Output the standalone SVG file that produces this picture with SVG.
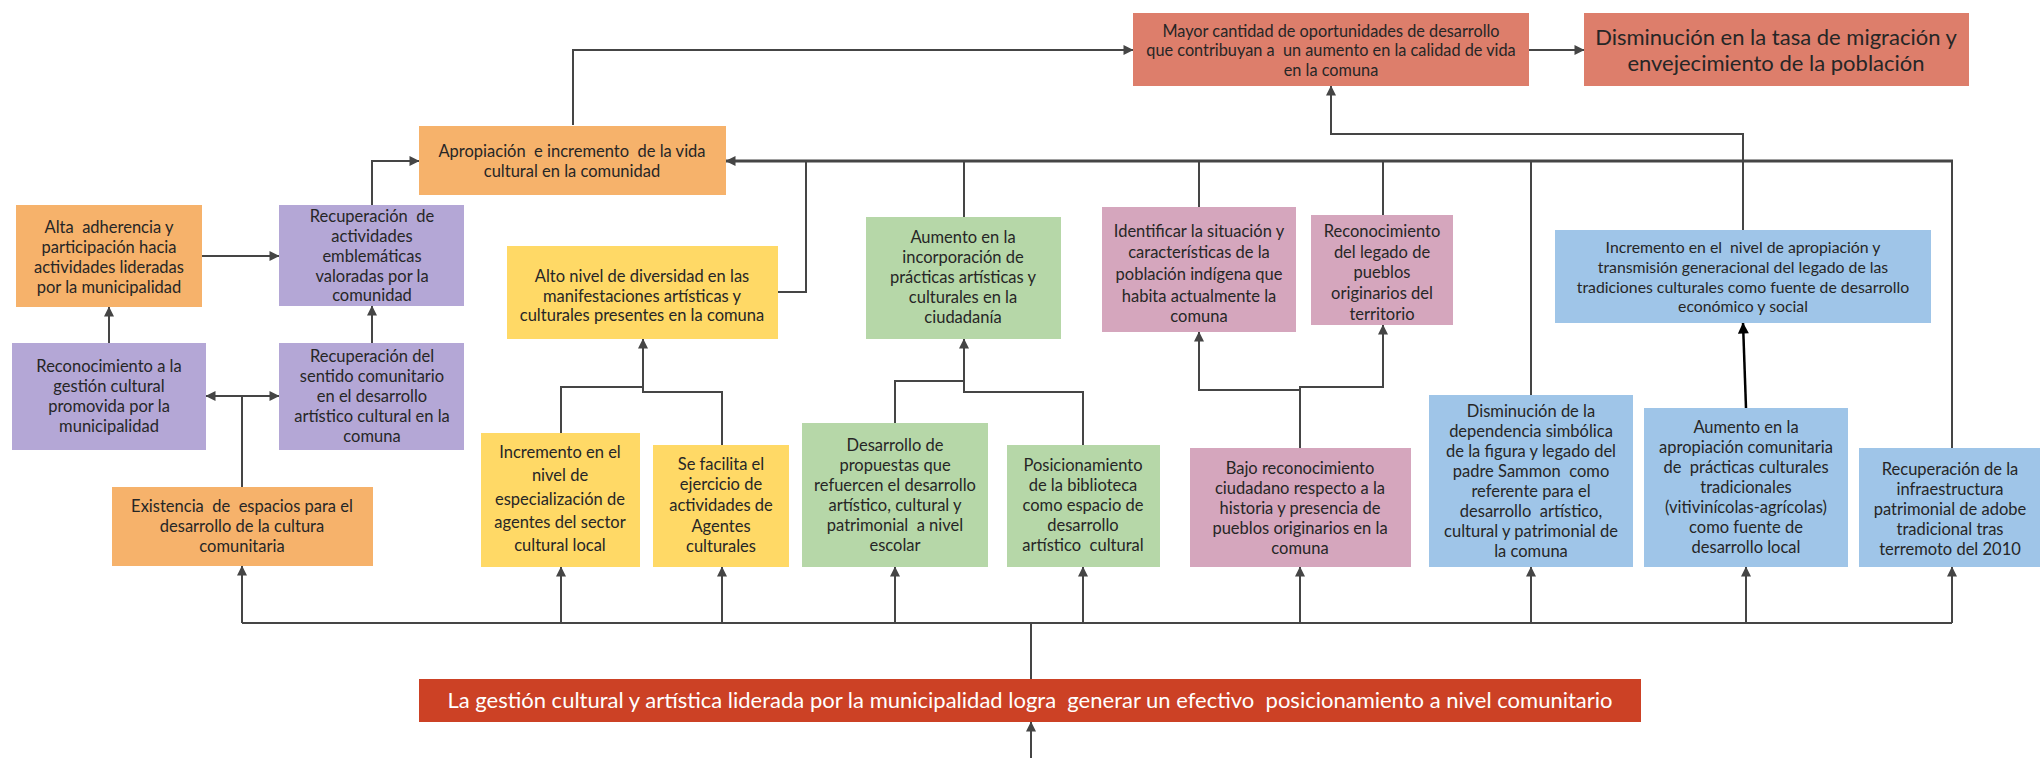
<svg xmlns="http://www.w3.org/2000/svg" width="2040" height="772" viewBox="0 0 2040 772">
<defs>
<marker id="ah" viewBox="0 0 10 10" refX="9.5" refY="5" markerWidth="11" markerHeight="10" orient="auto" markerUnits="userSpaceOnUse"><path d="M0,0 L10,5 L0,10 z" fill="#454545"/></marker>
<marker id="ahk" viewBox="0 0 10 10" refX="9.5" refY="5" markerWidth="12" markerHeight="11" orient="auto" markerUnits="userSpaceOnUse"><path d="M0,0 L10,5 L0,10 z" fill="#000"/></marker>
</defs>
<style>
text{font-family:Lato,"Open Sans","Liberation Sans",sans-serif;font-size:16.5px;fill:#262626;text-anchor:middle;white-space:pre}
.or{fill:#F6B26B}.pu{fill:#B4A7D6}.ye{fill:#FFD966}.gr{fill:#B6D7A8}.pk{fill:#D5A6BD}.bl{fill:#9FC5E8}.sa{fill:#DD7E6B}.rd{fill:#CC4125}
.c{fill:none;stroke:#454545;stroke-width:2}
.cb{fill:none;stroke:#454545;stroke-width:3}
</style>
<rect width="2040" height="772" fill="#fff"/>
<g id="connectors">
<path class="c" d="M573,125 V50 H1133" marker-end="url(#ah)"/>
<path class="c" d="M1529,50 H1584" marker-end="url(#ah)"/>
<path class="c" d="M1743,230 V134 H1331 V86" marker-end="url(#ah)"/>
<path class="cb" d="M1953,161 H726" marker-end="url(#ah)"/>
<path class="c" d="M806,161 V292 H778"/>
<path class="c" d="M964,161 V217"/>
<path class="c" d="M1199,161 V207"/>
<path class="c" d="M1383,161 V215"/>
<path class="c" d="M1531,161 V395"/>
<path class="c" d="M1952,161 V448"/>
<path class="c" d="M372,205 V161 H419" marker-end="url(#ah)"/>
<path class="c" d="M202,256 H279" marker-end="url(#ah)"/>
<path class="c" d="M109,343 V307" marker-end="url(#ah)"/>
<path class="c" d="M372,343 V306" marker-end="url(#ah)"/>
<path class="c" d="M242,487 V396"/>
<path class="c" d="M242,396 H206" marker-end="url(#ah)"/>
<path class="c" d="M242,396 H279" marker-end="url(#ah)"/>
<path class="c" d="M561,433 V387 H643"/>
<path class="c" d="M722,445 V392 H643 V339" marker-end="url(#ah)"/>
<path class="c" d="M895,423 V381 H964"/>
<path class="c" d="M1083,445 V392 H964 V339" marker-end="url(#ah)"/>
<path class="c" d="M1300,448 V390 H1199 V332" marker-end="url(#ah)"/>
<path class="c" d="M1300,390 V387 H1383 V325" marker-end="url(#ah)"/>
<path d="M1746,408 L1743,323" fill="none" stroke="#000" stroke-width="2.5" marker-end="url(#ahk)"/>
<path class="c" d="M242,623 H1952"/>
<path class="c" d="M1031,679 V623"/>
<path class="c" d="M1031,758 V722" marker-end="url(#ah)"/>
<path class="c" d="M242,623 V566" marker-end="url(#ah)"/>
<path class="c" d="M561,623 V567" marker-end="url(#ah)"/>
<path class="c" d="M722,623 V567" marker-end="url(#ah)"/>
<path class="c" d="M895,623 V567" marker-end="url(#ah)"/>
<path class="c" d="M1083,623 V567" marker-end="url(#ah)"/>
<path class="c" d="M1300,623 V567" marker-end="url(#ah)"/>
<path class="c" d="M1531,623 V567" marker-end="url(#ah)"/>
<path class="c" d="M1746,623 V567" marker-end="url(#ah)"/>
<path class="c" d="M1952,623 V567" marker-end="url(#ah)"/>
</g>
<g id="n-alta"><rect class="or" x="16" y="205" width="186" height="102"/>
<text><tspan x="109" y="233">Alta  adherencia y</tspan><tspan x="109" y="253">participación hacia</tspan><tspan x="109" y="273">actividades lideradas</tspan><tspan x="109" y="293">por la municipalidad</tspan></text></g>
<g id="n-recup-act"><rect class="pu" x="279" y="205" width="185" height="101"/>
<text><tspan x="372" y="222">Recuperación  de</tspan><tspan x="372" y="242">actividades</tspan><tspan x="372" y="262">emblemáticas</tspan><tspan x="372" y="282">valoradas por la</tspan><tspan x="372" y="301">comunidad</tspan></text></g>
<g id="n-apropiacion"><rect class="or" x="419" y="126" width="307" height="69"/>
<text><tspan x="572" y="157">Apropiación  e incremento  de la vida</tspan><tspan x="572" y="177">cultural en la comunidad</tspan></text></g>
<g id="n-recon-gestion"><rect class="pu" x="12" y="343" width="194" height="107"/>
<text><tspan x="109" y="372">Reconocimiento a la</tspan><tspan x="109" y="392">gestión cultural</tspan><tspan x="109" y="412">promovida por la</tspan><tspan x="109" y="432">municipalidad</tspan></text></g>
<g id="n-recup-sentido"><rect class="pu" x="279" y="343" width="185" height="107"/>
<text><tspan x="372" y="362">Recuperación del</tspan><tspan x="372" y="382">sentido comunitario</tspan><tspan x="372" y="402">en el desarrollo</tspan><tspan x="372" y="422">artístico cultural en la</tspan><tspan x="372" y="442">comuna</tspan></text></g>
<g id="n-existencia"><rect class="or" x="112" y="487" width="261" height="79"/>
<text><tspan x="242" y="512">Existencia  de  espacios para el</tspan><tspan x="242" y="532">desarrollo de la cultura</tspan><tspan x="242" y="552">comunitaria</tspan></text></g>
<g id="n-alto-nivel"><rect class="ye" x="507" y="246" width="271" height="93"/>
<text><tspan x="642" y="282">Alto nivel de diversidad en las</tspan><tspan x="642" y="302">manifestaciones artísticas y</tspan><tspan x="642" y="321">culturales presentes en la comuna</tspan></text></g>
<g id="n-incremento-esp"><rect class="ye" x="481" y="433" width="159" height="134"/>
<text><tspan x="560" y="458">Incremento en el</tspan><tspan x="560" y="481">nivel de</tspan><tspan x="560" y="505">especialización de</tspan><tspan x="560" y="528">agentes del sector</tspan><tspan x="560" y="551">cultural local</tspan></text></g>
<g id="n-se-facilita"><rect class="ye" x="653" y="445" width="136" height="122"/>
<text><tspan x="721" y="470">Se facilita el</tspan><tspan x="721" y="490">ejercicio de</tspan><tspan x="721" y="511">actividades de</tspan><tspan x="721" y="532">Agentes</tspan><tspan x="721" y="552">culturales</tspan></text></g>
<g id="n-aumento-incorp"><rect class="gr" x="866" y="217" width="195" height="122"/>
<text><tspan x="963" y="243">Aumento en la</tspan><tspan x="963" y="263">incorporación de</tspan><tspan x="963" y="283">prácticas artísticas y</tspan><tspan x="963" y="303">culturales en la</tspan><tspan x="963" y="323">ciudadanía</tspan></text></g>
<g id="n-desarrollo-prop"><rect class="gr" x="802" y="423" width="186" height="144"/>
<text><tspan x="895" y="451">Desarrollo de</tspan><tspan x="895" y="471">propuestas que</tspan><tspan x="895" y="491">refuercen el desarrollo</tspan><tspan x="895" y="511">artístico, cultural y</tspan><tspan x="895" y="531">patrimonial  a nivel</tspan><tspan x="895" y="551">escolar</tspan></text></g>
<g id="n-biblioteca"><rect class="gr" x="1007" y="445" width="153" height="122"/>
<text><tspan x="1083" y="471">Posicionamiento</tspan><tspan x="1083" y="491">de la biblioteca</tspan><tspan x="1083" y="511">como espacio de</tspan><tspan x="1083" y="531">desarrollo</tspan><tspan x="1083" y="551">artístico  cultural</tspan></text></g>
<g id="n-identificar"><rect class="pk" x="1102" y="207" width="194" height="125"/>
<text><tspan x="1199" y="237">Identificar la situación y</tspan><tspan x="1199" y="258">características de la</tspan><tspan x="1199" y="280">población indígena que</tspan><tspan x="1199" y="302">habita actualmente la</tspan><tspan x="1199" y="322">comuna</tspan></text></g>
<g id="n-legado"><rect class="pk" x="1311" y="215" width="142" height="110"/>
<text><tspan x="1382" y="237">Reconocimiento</tspan><tspan x="1382" y="258">del legado de</tspan><tspan x="1382" y="278">pueblos</tspan><tspan x="1382" y="299">originarios del</tspan><tspan x="1382" y="320">territorio</tspan></text></g>
<g id="n-bajo"><rect class="pk" x="1190" y="448" width="221" height="119"/>
<text><tspan x="1300" y="474">Bajo reconocimiento</tspan><tspan x="1300" y="494">ciudadano respecto a la</tspan><tspan x="1300" y="514">historia y presencia de</tspan><tspan x="1300" y="534">pueblos originarios en la</tspan><tspan x="1300" y="554">comuna</tspan></text></g>
<g id="n-sammon"><rect class="bl" x="1429" y="395" width="204" height="172"/>
<text><tspan x="1531" y="417">Disminución de la</tspan><tspan x="1531" y="437">dependencia simbólica</tspan><tspan x="1531" y="457">de la figura y legado del</tspan><tspan x="1531" y="477">padre Sammon  como</tspan><tspan x="1531" y="497">referente para el</tspan><tspan x="1531" y="517">desarrollo  artístico,</tspan><tspan x="1531" y="537">cultural y patrimonial de</tspan><tspan x="1531" y="557">la comuna</tspan></text></g>
<g id="n-aumento-aprop"><rect class="bl" x="1644" y="408" width="204" height="159"/>
<text><tspan x="1746" y="433">Aumento en la</tspan><tspan x="1746" y="453">apropiación comunitaria</tspan><tspan x="1746" y="473">de  prácticas culturales</tspan><tspan x="1746" y="493">tradicionales</tspan><tspan x="1746" y="513">(vitivinícolas-agrícolas)</tspan><tspan x="1746" y="533">como fuente de</tspan><tspan x="1746" y="553">desarrollo local</tspan></text></g>
<g id="n-infraestructura"><rect class="bl" x="1859" y="448" width="181" height="119"/>
<text><tspan x="1950" y="475">Recuperación de la</tspan><tspan x="1950" y="495">infraestructura</tspan><tspan x="1950" y="515">patrimonial de adobe</tspan><tspan x="1950" y="535">tradicional tras</tspan><tspan x="1950" y="555">terremoto del 2010</tspan></text></g>
<g id="n-incremento-aprop"><rect class="bl" x="1555" y="230" width="376" height="93"/>
<text style="font-size:15.8px"><tspan x="1743" y="253">Incremento en el  nivel de apropiación y</tspan><tspan x="1743" y="273">transmisión generacional del legado de las</tspan><tspan x="1743" y="293">tradiciones culturales como fuente de desarrollo</tspan><tspan x="1743" y="312">económico y social</tspan></text></g>
<g id="n-mayor"><rect class="sa" x="1133" y="13" width="396" height="73"/>
<text style="font-size:16.3px"><tspan x="1331" y="37">Mayor cantidad de oportunidades de desarrollo</tspan><tspan x="1331" y="56">que contribuyan a  un aumento en la calidad de vida</tspan><tspan x="1331" y="76">en la comuna</tspan></text></g>
<g id="n-disminucion-tasa"><rect class="sa" x="1584" y="13" width="385" height="73"/>
<text style="font-size:22px"><tspan x="1776" y="45">Disminución en la tasa de migración y</tspan><tspan x="1776" y="71">envejecimiento de la población</tspan></text></g>
<g id="n-gestion"><rect class="rd" x="419" y="679" width="1222" height="43"/>
<text style="font-size:22px;fill:#fff"><tspan x="1030" y="708">La gestión cultural y artística liderada por la municipalidad logra  generar un efectivo  posicionamiento a nivel comunitario</tspan></text></g>
</svg>
